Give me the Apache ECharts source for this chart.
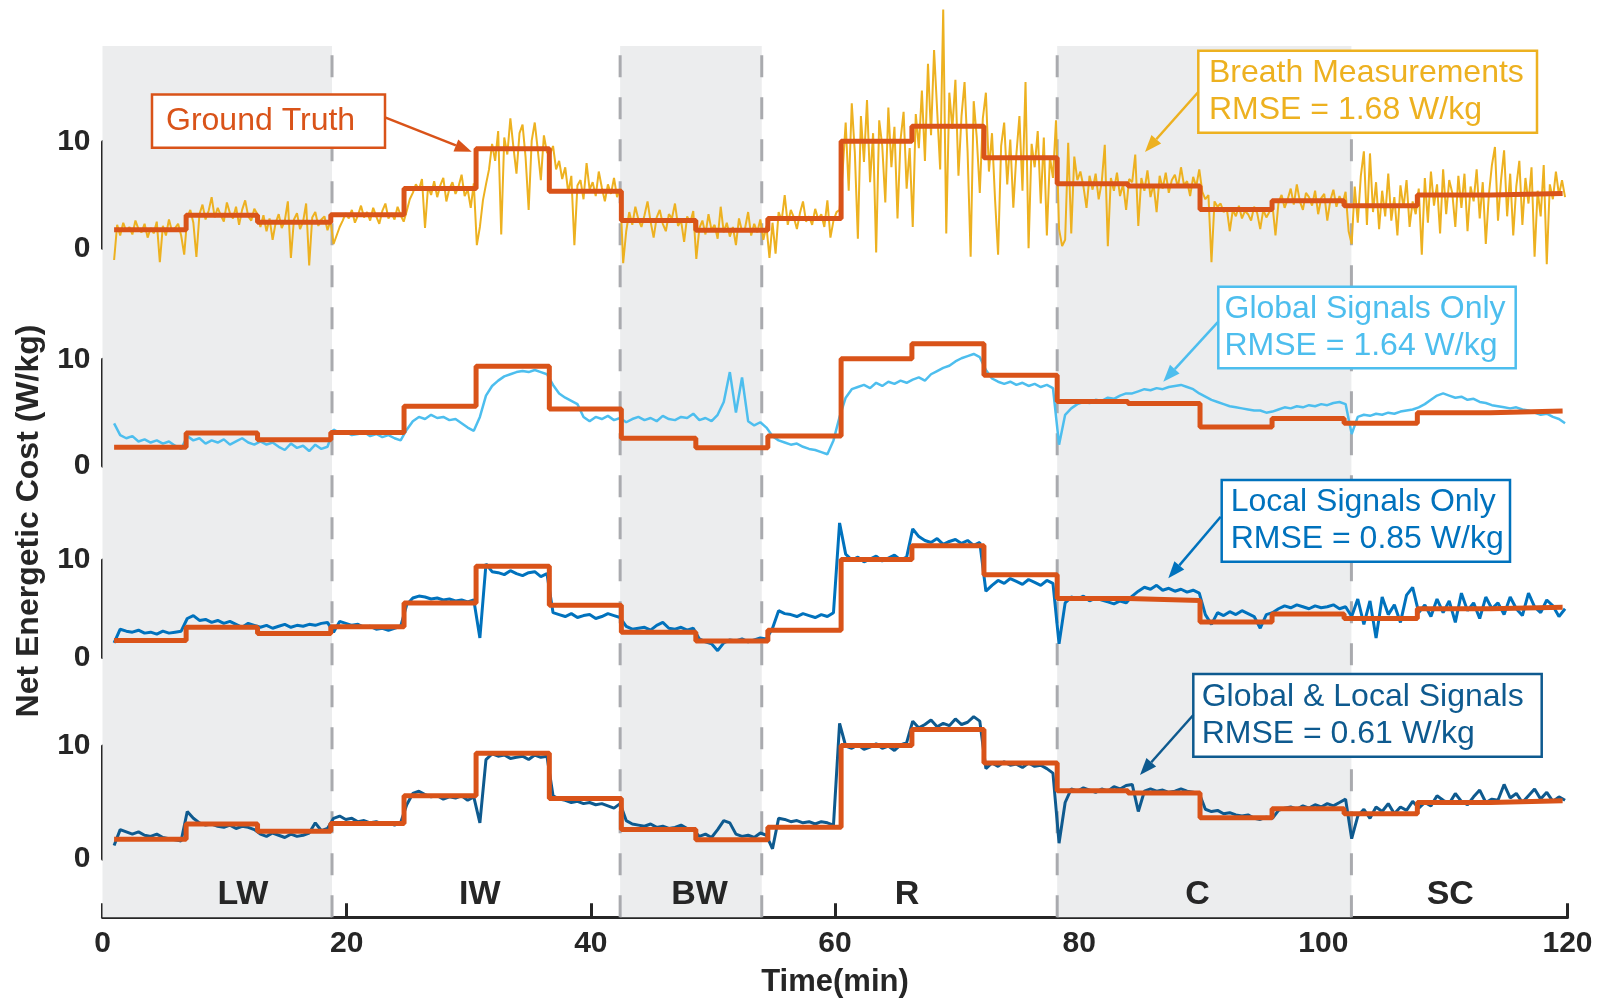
<!DOCTYPE html>
<html lang="en">
<head>
  <meta charset="UTF-8">
  <title>Net Energetic Cost</title>
  <style>
    html, body { margin: 0; padding: 0; background: #fff; }
    #chart { width: 1609px; height: 1002px; }
  </style>
</head>
<body>
  <div id="chart"></div>
  <script src="https://cdn.jsdelivr.net/npm/echarts@6/dist/echarts.min.js"></script>
  <script>
    // ground truth: step start times (min) + last end, value per step (W/kg)
    const gtTimes = [0.95, 6.85, 12.7, 18.7, 24.7, 30.6, 36.6, 42.5, 48.6, 54.5, 60.5,
      66.3, 72.2, 78.2, 84.0, 89.9, 95.8, 101.7, 107.7, 113.7, 119.6]
    const gtValues = [1.75, 3.1, 2.45, 3.15, 5.6, 9.35, 5.35, 2.6, 1.7, 2.8,
      10.05, 11.45, 8.5, 6.05, 5.85, 3.65, 4.45, 4.0, 5.0, 5.15]

    // all estimate series are sampled evenly between these two times
    const sampleStart = 0.95
    const sampleEnd = 119.8

    // breath measurements, one row per step (~0.25 min apart)
    const breath = [
      -1.1, 2.2, 1.2, 2.4, 1.6, 2.0, 1.3, 2.6, 1.8, 1.5, 2.3, 1.0, 1.9, 1.4, 2.5, -1.3, 2.1, 1.2, 2.7, 1.6, 1.9, 2.3, 1.2, -0.6,
      2.9, 3.6, 2.4, -0.8, 3.2, 4.1, 2.7, 3.5, 4.8, 2.9, 3.8, 3.1, 2.5, 4.3, 3.3, 2.8, 3.9, 2.2, 3.6, 4.5, 3.0, 2.6, 3.7, 3.2,
      2.0, 3.1, 1.6, 2.8, 0.8, 2.4, 3.2, 1.9, 2.6, 4.4, -0.9, 2.7, 3.3, 1.8, 2.5, 4.2, -1.6, 2.9, 3.4, 2.1, 2.7, 3.0, 1.7, 2.6,
      0.4, 1.2, 2.0, 2.6, 3.3, 2.8, 3.6, 2.4, 3.1, 4.0, 2.9, 3.4, 2.6, 3.8, 3.0, 2.3, 3.5, 4.2, 2.8, 3.3, 2.7, 3.9, 3.1, 2.5,
      3.5, 4.6, 5.2, 6.0, 5.5, 6.5, 1.9, 5.8, 5.0, 6.3, 4.8, 5.9, 6.6, 4.4, 5.6, 6.2, 5.1, 5.8, 6.9, 4.9, 5.5, 3.8, 6.1,
      0.3, 2.0, 4.5, 6.0, 7.4, 9.8, 8.2, 11.0, 1.3, 10.4, 8.8, 12.2, 9.5, 7.0, 10.8, 11.6, 8.5, 3.6, 10.1, 11.8, 9.2, 6.4, 10.6, 9.0,
      8.8, 9.6, 7.4, 8.2, 6.5, 7.6, 5.2, 6.8, 0.3, 5.9, 6.4, 4.6, 8.0, 5.5, 6.2, 4.9, 7.2, 5.7, 4.4, 6.0, 5.1, 6.6, 4.8, 5.6,
      -1.4, 1.6, 3.4, 2.2, 3.9, 2.7, 2.0, 3.1, 4.4, 2.5, 1.0, 2.9, 3.6, 2.3, 1.6, 3.2, 2.8, 4.2, 2.1, 2.6, 0.6, 3.0, 2.4, 3.5,
      -1.0, 1.9, 2.6, 1.3, 3.2, 1.7, 2.2, 0.9, 3.9, 1.5, 2.4, 1.1, 2.0, 0.3, 2.8, 1.6, 1.9, 3.4, 1.2, 2.3, 1.5, 2.7, 0.8, 2.1,
      -0.9, 2.4, -0.5, 3.4, 2.6, 5.0, 2.2, 3.6, 2.9, 1.8, 3.3, 4.4, 2.5, 3.0, 2.2, 3.7, 2.7, 3.2, 2.0, 4.5, 1.0, 2.6, 3.4,
      3.6, 7.2, 11.8, 5.4, 13.6, 9.0, 0.9, 12.4, 8.1, 13.9, 6.2, 10.8, -0.4, 12.0, 9.6, 4.3, 13.2, 7.6, 11.4, 2.8, 10.2, 12.8, 5.6, 9.4,
      2.0, 12.6, 9.4, 14.8, 8.2, 17.3, 10.6, 18.6, 13.0, 7.4, 22.4, 1.4, 14.6, 11.2, 15.8, 6.8, 12.4, 15.6, 9.0, -0.8, 13.8, 10.4, 5.2, 12.2,
      14.6, 7.2, 10.8, 4.6, -0.6, 9.6, 11.8, 6.0, 10.2, 3.8, 8.8, 12.4, 5.4, 15.6, 0.0, 9.8, 7.6, 11.0, 4.2, 10.4, 1.2, 8.6, 6.6, 12.0,
      1.8, 0.2, 0.8, 9.9, 1.4, 8.6, 6.4, 7.2, 5.8, 3.8, 6.8, 5.5, 7.0, 4.6, 6.2, 9.7, 0.2, 6.6, 5.4, 7.1, 4.9, 6.0, 3.6, 6.5,
      6.2, 8.8, 2.1, 6.6, 5.4, 7.3, 4.8, 6.0, 3.4, 6.8, 5.6, 7.1, 5.2, 6.4, 6.9, 5.7, 7.6, 5.9, 6.3, 4.9, 6.7, 5.8, 7.4,
      5.3, 4.6, 5.0, -1.3, 4.4, 3.9, 4.2, 3.4, 3.8, 1.6, 3.6, 3.0, 4.0, 2.8, 3.5, 3.2, 2.6, 3.9, 3.3, 1.8, 3.6, 2.9, 3.4, 4.1,
      1.2, 4.3, 5.0, 3.8, 4.6, 5.6, 4.1, 6.0, 4.4, 3.6, 5.2, 4.8, 4.0, 5.4, 3.2, 4.7, 5.1, 2.6, 4.5, 5.5, 3.9, 4.9, 4.2, 5.3,
      1.6, 0.4, 5.8, 2.4, 6.8, 9.1, 2.2, 8.9, 3.4, 6.2, 1.8, 5.4, 3.0, 7.0, 2.6, 4.8, 1.2, 5.9, 3.8, 6.4, 2.0, 4.4, 3.2, 5.6,
      -0.6, 6.6, 2.4, 7.2, 4.0, 6.0, 1.4, 7.4, 3.2, 6.4, 5.2, 2.0, 6.8, 3.8, 7.0, 1.6, 5.8, 4.4, 7.4, 2.8, 6.2, 0.4, 5.0, 7.8,
      9.5, 2.6, 6.4, 9.2, 3.0, 7.0, 1.2, 5.8, 8.2, 2.2, 6.6, 4.2, 7.6, -0.8, 5.4, 3.0, 7.8, -1.5, 6.0, 4.6, 7.2, 5.0, 6.4, 4.8
    ]

    // global signals only (~0.5 min apart)
    const globalOnly = [
      4.0, 2.9, 2.6, 2.8, 2.3, 2.5, 2.2, 2.4, 2.1, 2.3, 1.9, 1.6,
      2.8, 2.4, 2.6, 2.1, 2.4, 2.2, 2.5, 2.0, 2.3, 2.6, 2.2, 2.0,
      2.3, 2.0, 2.2, 1.8, 1.5, 2.1, 1.7, 1.9, 1.4, 2.0, 1.6, 1.8,
      3.4, 3.1, 3.2, 2.9, 3.0, 3.2, 2.8, 3.0, 2.7, 2.9, 2.6, 2.4,
      3.4, 4.2, 4.6, 4.4, 4.8, 4.5, 4.6, 4.3, 4.4, 4.0, 3.6, 3.3,
      4.6, 6.6, 7.5, 8.0, 8.4, 8.6, 8.8, 8.9, 8.8, 9.0, 8.8, 8.6,
      7.6, 6.8, 6.4, 6.1, 5.8, 4.6, 4.2, 4.6, 4.4, 4.7, 4.3, 4.5,
      4.1, 4.4, 4.6, 4.3, 4.5, 4.2, 4.7, 4.4, 4.3, 4.6, 4.5, 4.9,
      4.3, 4.5, 4.2, 4.8, 6.0, 8.8, 5.0, 8.3, 4.2, 3.8, 4.1, 3.6,
      2.8, 2.4, 2.2, 2.0, 2.1, 1.8, 1.6, 1.5, 1.3, 1.1, 2.4,
      4.6, 6.4, 7.2, 7.4, 7.6, 7.3, 7.8, 7.5, 7.9, 7.7, 8.0, 7.8,
      8.1, 8.3, 8.0, 8.6, 8.9, 9.2, 9.4, 9.8, 10.1, 10.3, 10.5, 10.2,
      9.0, 8.2, 7.9, 7.7, 7.9, 7.6, 7.8, 7.5, 7.7, 7.4, 7.6, 7.3,
      2.0, 4.8, 5.4, 5.8, 6.0, 5.9, 6.2, 6.1, 6.4, 6.3, 6.6, 6.8,
      6.8, 7.0, 7.2, 7.1, 7.3, 7.2, 7.4, 7.5, 7.6, 7.4, 7.2, 6.8,
      6.5, 6.2, 6.0, 5.8, 5.6, 5.5, 5.4, 5.3, 5.2, 5.2, 5.0, 5.1,
      5.3, 5.5, 5.4, 5.6, 5.5, 5.7, 5.6, 5.8, 5.7, 5.9, 6.0, 5.8,
      3.0, 4.6, 4.8, 4.7, 4.9, 4.8, 5.0, 4.9, 5.1, 5.2, 5.3, 5.5,
      5.8, 6.2, 6.6, 6.8, 6.6, 6.4, 6.5, 6.2, 6.3, 6.0, 5.9, 5.7,
      5.6, 5.5, 5.4, 5.5, 5.3, 5.2, 5.0, 4.8, 4.9, 4.6, 4.4, 4.0
    ]

    // local signals only
    const localOnly = [
      1.5, 2.9, 2.7, 2.6, 2.8, 2.5, 2.6, 2.4, 2.7, 2.5, 2.6, 2.7,
      4.0, 4.3, 3.8, 3.9, 3.6, 3.8, 3.5, 3.7, 3.4, 3.1, 3.5, 3.3,
      3.1, 3.3, 3.0, 3.2, 3.4, 3.1, 3.3, 3.2, 3.4, 3.3, 3.5, 3.6,
      2.6, 3.7, 3.5, 3.3, 3.4, 3.1, 3.2, 2.9, 3.0, 2.8, 3.0, 3.2,
      5.4, 6.1, 6.3, 6.2, 6.0, 6.1, 5.9, 6.0, 5.8, 5.9, 5.7, 5.9,
      2.0, 9.6, 8.8, 8.7, 8.5, 8.9, 8.6, 8.4, 8.7, 8.8, 8.3, 8.6,
      4.6, 4.4, 4.2, 4.5, 4.1, 4.3, 4.4, 4.0, 4.2, 4.5, 4.3, 4.1,
      3.2, 2.9, 3.0, 3.1, 2.8, 3.3, 3.6, 3.0, 2.9, 3.1, 2.8, 3.0,
      1.9, 1.6, 1.4, 0.7, 1.5, 1.8, 1.7, 1.9, 1.6, 1.8, 2.0, 1.9,
      3.0, 4.8, 4.5, 4.4, 4.2, 4.5, 4.3, 4.1, 4.4, 4.2, 4.6,
      13.8, 10.6, 10.0, 10.3, 9.8, 10.1, 10.4, 9.9, 10.2, 10.5, 10.0, 10.3,
      13.2, 12.4, 12.0, 11.8, 12.2, 11.6, 11.9, 12.1, 11.7, 12.0, 11.5, 11.8,
      6.8, 7.4, 7.9, 7.6, 8.1, 7.8, 7.5, 8.0, 7.7, 7.4, 7.9, 7.6,
      1.4, 5.6, 6.2, 6.0, 6.3, 5.8, 6.1, 5.9, 5.7, 5.5, 5.8, 5.6,
      6.3, 6.8, 7.2, 7.0, 7.4, 6.9, 7.1, 6.8, 7.0, 6.7, 6.9, 6.6,
      4.4, 3.4, 4.6, 4.3, 4.7, 4.4, 4.8, 4.5, 4.2, 3.0, 4.4, 4.6,
      5.0, 5.3, 5.1, 5.4, 5.2, 5.0, 5.3, 5.1, 5.2, 5.4, 5.0, 5.2,
      4.2, 6.0, 3.4, 5.8, 2.0, 6.2, 4.4, 5.4, 3.6, 6.4, 7.2, 4.6,
      5.4, 4.2, 6.0, 4.6, 5.8, 3.6, 6.6, 4.8, 5.6, 4.0, 6.2, 5.0,
      5.6, 4.4, 6.2, 5.0, 4.3, 6.6, 5.2, 4.6, 5.9, 5.3, 4.2, 5.0
    ]

    // global & local signals
    const globalLocal = [
      1.2, 2.6, 2.4, 2.2, 2.4, 2.1, 2.0, 2.2, 1.9, 1.8, 1.7, 1.6,
      4.2, 3.6, 3.2, 3.0, 3.1, 2.9, 2.8, 3.0, 2.7, 2.9, 2.8, 2.6,
      2.2, 2.0, 2.3, 2.1, 1.9, 2.2, 2.0, 2.1, 2.3, 3.2, 2.5, 2.7,
      3.6, 3.8, 3.5, 3.6, 3.3, 3.4, 3.2, 3.3, 3.1, 3.2, 3.0, 3.2,
      4.8, 5.8, 6.0, 5.7, 5.5, 5.6, 5.3, 5.5, 5.4, 5.6, 5.2, 5.5,
      3.2, 8.8, 9.3, 9.1, 9.2, 8.9, 9.0, 9.1, 8.8, 9.2, 9.0, 9.1,
      5.6, 5.3, 5.2, 5.0, 5.1, 4.9, 5.0, 4.8, 4.9, 4.7, 4.5, 4.9,
      3.4, 3.1, 3.0, 2.9, 3.1, 2.8, 2.9, 2.7, 2.8, 3.0, 2.7, 2.6,
      2.0, 2.2, 1.9, 2.6, 3.4, 3.2, 2.2, 2.0, 2.1, 1.9, 2.3, 2.1,
      0.9, 3.6, 3.5, 3.3, 3.4, 3.2, 3.3, 3.1, 3.3, 3.2, 3.0,
      12.0, 10.0, 9.8, 10.1, 9.7, 9.9, 10.2, 9.8, 10.0, 9.6, 10.1, 10.3,
      12.2, 11.6, 11.9, 12.3, 11.7, 12.0, 11.8, 12.4, 11.9, 12.1, 12.6, 12.2,
      8.0, 8.5, 8.2, 8.6, 8.3, 8.4, 8.1, 8.5, 8.2, 8.3, 8.0, 7.6,
      1.4, 5.0, 6.2, 6.0, 6.3, 6.1, 5.9, 6.2, 6.0, 6.4, 6.2, 6.5,
      6.6, 4.2, 6.0, 6.2, 6.0, 6.1, 5.9, 6.0, 6.2, 6.0, 5.9, 5.8,
      4.4, 4.2, 4.3, 4.0, 4.1, 3.9, 3.8, 3.9, 3.6, 3.5, 3.7, 3.6,
      4.3, 4.5, 4.6, 4.4, 4.7, 4.5, 4.8, 4.6, 4.9, 4.7, 5.0, 5.3,
      1.8, 3.8, 4.4, 3.6, 4.6, 4.2, 4.9, 4.0, 4.6, 4.3, 5.1, 4.5,
      5.0, 4.7, 5.6, 5.2, 4.9, 5.8, 5.1, 4.8, 5.5, 6.1, 5.0, 5.3,
      5.2, 6.6, 5.4, 5.8, 5.0, 5.6, 6.2, 5.3, 5.9, 5.1, 5.5, 5.2
    ]

    // walking conditions
    const shadedSpans = [[0, 18.8], [42.4, 54.0], [78.2, 102.3]]
    const dividers = [18.8, 42.4, 54.0, 78.2, 102.3]
    const conditions = ['LW', 'IW', 'BW', 'R', 'C', 'SC']
    const conditionAt = [11.5, 30.9, 48.9, 65.9, 89.7, 110.4]

    const FONT = '"Liberation Sans", Arial, Helvetica, sans-serif'
    const INK = '#262626'
    const GT_COLOR = '#d95319'

    const panels = [
      { name: 'Breath Measurements', data: breath, color: '#edb120', width: 2, top: 141.7, height: 106.6 },
      { name: 'Global Signals Only', data: globalOnly, color: '#4dbeee', width: 2.5, top: 359.3, height: 106.7 },
      { name: 'Local Signals Only', data: localOnly, color: '#0072bd', width: 3, top: 560, height: 97.5 },
      { name: 'Global & Local Signals', data: globalLocal, color: '#0e5a8f', width: 3, top: 746, height: 113 }
    ]

    const LEFT = 102.5
    const WIDTH = 1465

    function toPoints (vals) {
      const step = (sampleEnd - sampleStart) / (vals.length - 1)
      return vals.map((v, i) => [sampleStart + i * step, v])
    }

    function gtPoints () {
      const pts = gtValues.map((v, i) => [gtTimes[i], v])
      pts.push([gtTimes[gtTimes.length - 1], gtValues[gtValues.length - 1]])
      return pts
    }

    const axisLineStyle = { color: INK, width: 3 }
    const tickLabel = { fontSize: 30, fontWeight: 'bold', color: INK, fontFamily: FONT }

    const grids = [{ left: LEFT, top: 46, width: WIDTH, height: 871.3, outerBoundsMode: 'none' }]
    const xAxes = [{
      gridIndex: 0, type: 'value', min: 0, max: 120, interval: 20,
      axisLine: { show: true, lineStyle: axisLineStyle },
      axisTick: { show: true, inside: true, length: 14, lineStyle: axisLineStyle },
      axisLabel: Object.assign({ margin: 11 }, tickLabel),
      splitLine: { show: false },
      name: 'Time(min)', nameLocation: 'middle', nameGap: 50,
      nameTextStyle: { fontSize: 31, fontWeight: 'bold', color: INK, fontFamily: FONT }
    }]
    const yAxes = [{ gridIndex: 0, type: 'value', min: 0, max: 1, show: false }]

    panels.forEach((p, k) => {
      const g = k + 1
      grids.push({ left: LEFT, top: p.top, width: WIDTH, height: p.height, outerBoundsMode: 'none' })
      xAxes.push({ gridIndex: g, type: 'value', min: 0, max: 120, show: false })
      yAxes.push({
        gridIndex: g, type: 'value', min: 0, max: 10, interval: 10,
        axisLine: { show: true, lineStyle: axisLineStyle },
        axisTick: { show: true, inside: true, length: 14, lineStyle: axisLineStyle },
        axisLabel: Object.assign({ margin: 12 }, tickLabel),
        splitLine: { show: false }
      })
    })

    const series = [{
      type: 'scatter', xAxisIndex: 0, yAxisIndex: 0, z: 1, silent: true,
      symbolSize: 0,
      itemStyle: { opacity: 1 },
      data: conditions.map((c, i) => ({ name: c, value: [conditionAt[i], 0.026] })),
      label: {
        show: true, position: 'inside', formatter: '{b}', opacity: 1,
        fontSize: 34, fontWeight: 'bold', color: INK, fontFamily: FONT
      },
      markArea: {
        silent: true,
        itemStyle: { color: '#ecedee' },
        data: shadedSpans.map(s => [{ xAxis: s[0] }, { xAxis: s[1] }])
      }
    }]

    // dashed dividers between conditions, bottom to top of the frame
    dividers.forEach(x => {
      series.push({
        type: 'line', xAxisIndex: 0, yAxisIndex: 0, z: 2, silent: true,
        symbol: 'none',
        lineStyle: { type: [22, 20], color: '#a9aaae', width: 3 },
        data: [[x, 0], [x, 1]]
      })
    })

    panels.forEach((p, k) => {
      const g = k + 1
      series.push({
        name: p.name, type: 'line', xAxisIndex: g, yAxisIndex: g, z: 3,
        clip: false, symbol: 'none', silent: true,
        lineStyle: { color: p.color, width: p.width },
        data: toPoints(p.data)
      })
      series.push({
        name: 'Ground Truth', type: 'line', xAxisIndex: g, yAxisIndex: g, z: 4,
        clip: false, symbol: 'none', step: 'end', silent: true,
        lineStyle: { color: GT_COLOR, width: 5 },
        data: gtPoints()
      })
    })

    // callout helpers
    function arrow (x1, y1, x2, y2, color) {
      const a = Math.atan2(y2 - y1, x2 - x1)
      const L = 17, W = 6.5
      const bx = x2 - L * Math.cos(a), by = y2 - L * Math.sin(a)
      const px = -Math.sin(a) * W, py = Math.cos(a) * W
      return [
        { type: 'line', z: 100, silent: true, shape: { x1, y1, x2: bx, y2: by }, style: { stroke: color, lineWidth: 2.5 } },
        { type: 'polygon', z: 100, silent: true, shape: { points: [[x2, y2], [bx + px, by + py], [bx - px, by - py]] }, style: { fill: color } }
      ]
    }

    function callout (x, y, w, h, text, color, tx) {
      return [
        { type: 'rect', z: 100, silent: true, shape: { x, y, width: w, height: h }, style: { fill: '#fff', stroke: color, lineWidth: 2.5 } },
        {
          type: 'text', z: 101, silent: true, x: tx, y: y + h / 2,
          style: { text, fill: color, fontSize: 32, fontFamily: FONT, lineHeight: 37, align: 'left', verticalAlign: 'middle' }
        }
      ]
    }

    const graphic = [].concat(
      callout(152, 94.4, 233, 53.4, 'Ground Truth', GT_COLOR, 166),
      arrow(385, 117.4, 471.7, 151.7, GT_COLOR),
      callout(1198.3, 50.7, 338.7, 82, 'Breath Measurements\nRMSE = 1.68 W/kg', '#edb120', 1209),
      arrow(1198.3, 92, 1145, 152, '#edb120'),
      callout(1218.3, 286.7, 297.4, 81.6, 'Global Signals Only\nRMSE = 1.64 W/kg', '#4dbeee', 1224.5),
      arrow(1218.3, 321.7, 1163.3, 381.7, '#4dbeee'),
      callout(1221.7, 480, 288.3, 81.7, 'Local Signals Only\nRMSE = 0.85 W/kg', '#0072bd', 1230.7),
      arrow(1220.7, 516.7, 1168.3, 578.3, '#0072bd'),
      callout(1193.3, 674, 348.4, 82.7, 'Global & Local Signals\nRMSE = 0.61 W/kg', '#0e5a8f', 1201.7),
      arrow(1193.3, 715, 1140, 775, '#0e5a8f'),
      [{
        type: 'text', z: 101, silent: true, x: 29.5, y: 521, rotation: Math.PI / 2,
        style: {
          text: 'Net Energetic Cost (W/kg)', fill: INK, fontSize: 32, fontWeight: 'bold',
          fontFamily: FONT, align: 'center', verticalAlign: 'middle'
        }
      }]
    )

    const chart = echarts.init(document.getElementById('chart'))
    chart.setOption({
      animation: false,
      backgroundColor: '#fff',
      grid: grids,
      xAxis: xAxes,
      yAxis: yAxes,
      series: series,
      graphic: graphic
    })
  </script>
</body>
</html>
